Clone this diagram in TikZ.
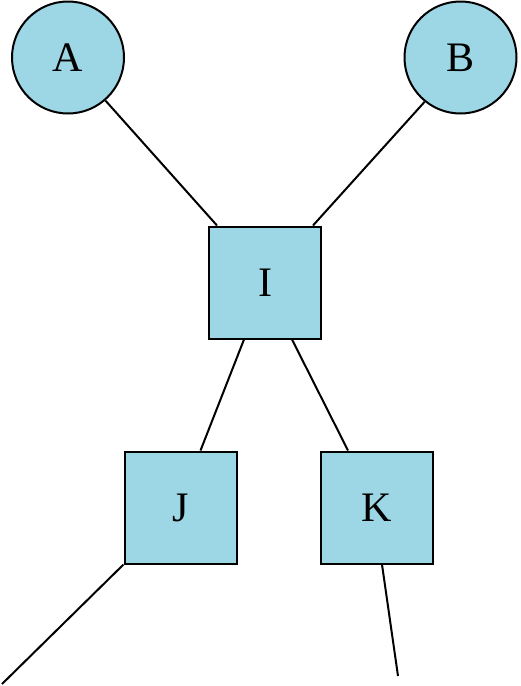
\documentclass[tikz,border=0pt]{standalone}
\usepackage{fontspec}
\setmainfont{Liberation Serif}
\definecolor{nodefill}{RGB}{157,214,228}
\begin{document}
\begin{tikzpicture}[x=1pt,y=-1pt,
  base/.style={draw=black,fill=nodefill,line width=2pt,inner sep=0pt,
    font=\fontsize{42}{42}\selectfont},
  roundnode/.style={base,circle,minimum size=112pt},
  squarenode/.style={base,rectangle,minimum width=112pt,minimum height=112pt},
  link/.style={line width=2pt,draw=black}]
\useasboundingbox (0,0) rectangle (520,686);
\node[roundnode] (A) at (68,57.5) {A};
\node[roundnode] (B) at (460.5,57.5) {B};
\node[squarenode] (I) at (265,282.5) {I};
\node[squarenode] (J) at (180.5,507.5) {J};
\node[squarenode] (K) at (377,507.5) {K};
\coordinate (Jend) at (2,684);
\coordinate (Kend) at (398,676);
\draw[link] (A.-49.5) -- ([xshift=9pt]I.north west);
\draw[link] (B.-129.4) -- ([xshift=-9pt]I.north east);
\draw[link] ([xshift=36pt]I.south west) -- ([xshift=77pt]J.north west);
\draw[link] ([xshift=84pt]I.south west) -- ([xshift=28pt]K.north west);
\draw[link] (J.south west) -- (Jend);
\draw[link] ([xshift=62pt]K.south west) -- (Kend);
\end{tikzpicture}
\end{document}
